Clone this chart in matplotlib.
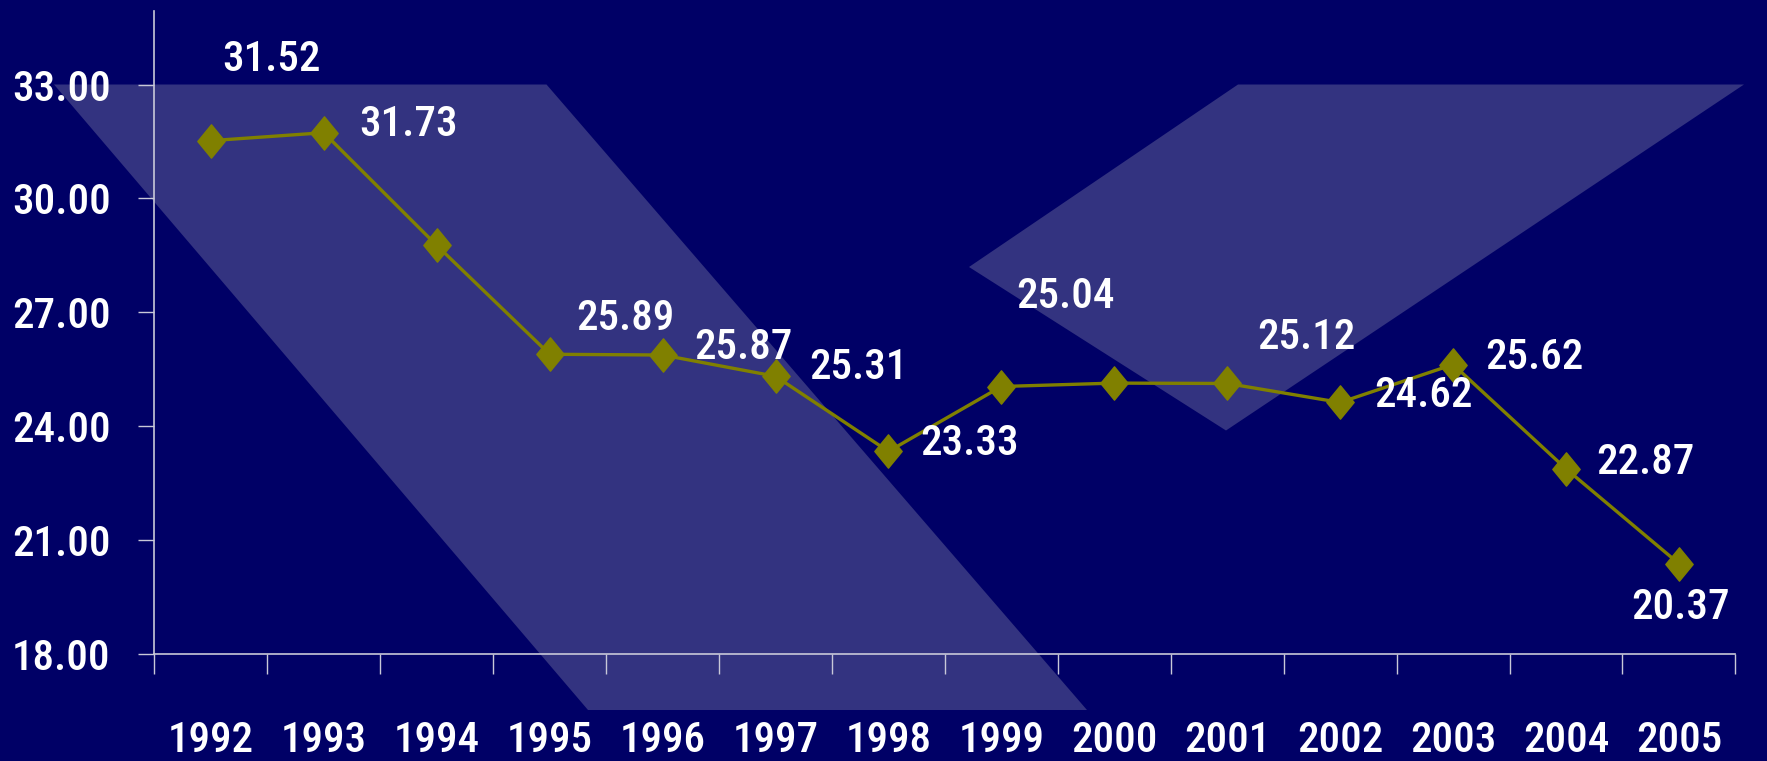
import numpy as np
import matplotlib
matplotlib.use('Agg')
import matplotlib.pyplot as plt
from matplotlib.patches import Polygon
from matplotlib.path import Path

plt.rcParams['font.family'] = ['Roboto Condensed', 'DejaVu Sans']
plt.rcParams['font.weight'] = 'medium'

# datos
years = ['1992', '1993', '1994', '1995', '1996', '1997', '1998',
         '1999', '2000', '2001', '2002', '2003', '2004', '2005']
values = [31.52, 31.73, 28.76, 25.89, 25.87, 25.31, 23.33,
          25.04, 25.13, 25.12, 24.62, 25.62, 22.87, 20.37]
show_label = [True, True, False, True, True, True, True,
              True, False, True, True, True, True, True]
yticks = [18, 21, 24, 27, 30, 33]

# desplazamiento de las etiquetas (px)
label_offsets = [(61, 81), (85, 8), (0, 0), (76, 36), (81, 8), (83, 9), (81, 8),
                 (64, 90), (0, 0), (79, 46), (83, 7), (81, 7), (79, 6), (2, -44)]

BG = '#000066'
SHAPE = '#333380'
OLIVE = '#808000'
AXIS = '#c8c8d8'
FS = 31
W, H = 1767, 761

fig = plt.figure(figsize=(W / 100, H / 100), dpi=100, facecolor=BG)

# formas decorativas del fondo (px de la figura)
shapes = [
    [(54, 84.5), (546.5, 84.5), (1087, 710), (588, 710)],
    [(969, 267), (1238, 84.5), (1744, 84.5), (1226, 430.5)],
]
for verts in shapes:
    pts = [(x / W, 1 - y / H) for x, y in verts]
    fig.patches.append(Polygon(pts, closed=True, transform=fig.transFigure,
                               facecolor=SHAPE, edgecolor='none', zorder=-1))

ax = fig.add_axes([154.4 / W, 1 - 653.6 / H, (1735.4 - 154.4) / W, (653.6 - 11.3) / H])
ax.set_facecolor('none')

diamond = Path([(0, 1), (0.82, 0), (0, -1), (-0.82, 0), (0, 1)],
               [Path.MOVETO, Path.LINETO, Path.LINETO, Path.LINETO, Path.CLOSEPOLY])

x = np.arange(len(years))
ax.plot(x, values, color=OLIVE, lw=2.4, marker=diamond, ms=24,
        mfc=OLIVE, mec=OLIVE, zorder=3)

for i, v in enumerate(values):
    if not show_label[i]:
        continue
    ax.annotate(f'{v:.2f}', (x[i], v), xytext=label_offsets[i],
                textcoords='offset pixels', ha='center', va='center',
                color='white', fontsize=FS, zorder=4)

ax.set_xlim(-0.5, len(years) - 0.5)
ax.set_ylim(18, 34.93)

ax.spines['top'].set_visible(False)
ax.spines['right'].set_visible(False)
for s in ['left', 'bottom']:
    ax.spines[s].set_color(AXIS)
    ax.spines[s].set_linewidth(1.2)

ax.set_yticks(yticks)
ax.set_yticklabels([f'{v:.2f}' for v in yticks])
ax.tick_params(axis='y', length=11.5, width=1, color=AXIS, pad=20,
               labelsize=FS, labelcolor='white')

ax.set_xticks(x)
ax.set_xticklabels(years)
ax.set_xticks(np.arange(-0.5, len(years), 1), minor=True)
ax.tick_params(axis='x', which='major', length=0, pad=48,
               labelsize=FS, labelcolor='white')
ax.tick_params(axis='x', which='minor', length=14.6, width=1, color=AXIS)

fig.savefig('out.png', dpi=100, facecolor=BG)
